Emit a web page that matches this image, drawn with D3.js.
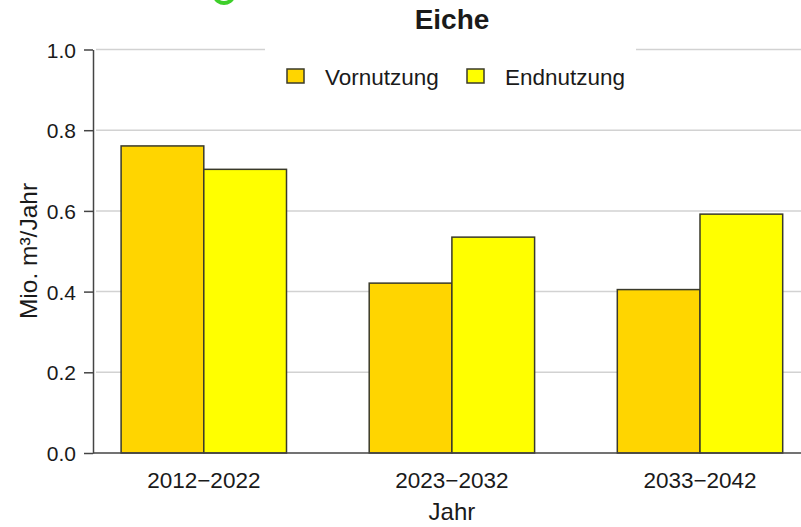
<!DOCTYPE html>
<html>
<meta charset="utf-8">
<style>
    body { margin: 0; background: #fff; }
    svg text { font-family: "Liberation Sans", Arial, sans-serif; fill: #1a1a1a; }
    .grid line { stroke: #d2d2d2; stroke-width: 1.5; }
    .bar { stroke: #3a3a2a; stroke-width: 1.5; }
</style>
<body>
<script src="https://cdn.jsdelivr.net/npm/d3@7"></script>
<div id="chart"></div>
<script>
// Chart data.
var categories = ["2012\u22122022", "2023\u22122032", "2033\u22122042"];
var series = ["Vornutzung", "Endnutzung"];
var vornutzung = [0.761, 0.421, 0.405];
var endnutzung = [0.703, 0.535, 0.592];
var yTicks = [0, 0.2, 0.4, 0.6, 0.8, 1.0];
var colors = ["#FFD500", "#FFFF00"];

var width = 801, height = 527;

var svg = d3.select("#chart").append("svg")
    .attr("width", width)
    .attr("height", height);

// Scales. The plot runs off the right edge of the picture, like the original.
var y = d3.scaleLinear().domain([0, 1]).range([453, 49.5]);
var x = d3.scaleBand().domain(categories)
    .range([38.4, 865.4])
    .paddingInner(1 / 3)
    .paddingOuter(1 / 3);
var xs = d3.scaleBand().domain(series).range([0, x.bandwidth()]);
var color = d3.scaleOrdinal().domain(series).range(colors);

// small green mark cut off at the top edge
svg.append("path")
    .attr("d", d3.arc()({innerRadius: 8, outerRadius: 12, startAngle: Math.PI * 0.6, endAngle: Math.PI * 1.4}))
    .attr("transform", "translate(224,-7)")
    .attr("fill", "#3ecf2a");

// Grid lines
svg.append("g").attr("class", "grid")
    .selectAll("line")
    .data(yTicks.filter(function(d) { return d > 0; }))
    .enter().append("line")
    .attr("x1", 96).attr("x2", width)
    .attr("y1", function(d) { return y(d); })
    .attr("y2", function(d) { return y(d); });

// Bars
var rows = categories.map(function(c, i) {
    return {cat: c, values: [
        {key: series[0], value: vornutzung[i]},
        {key: series[1], value: endnutzung[i]}
    ]};
});

var groups = svg.append("g").selectAll("g")
    .data(rows)
    .enter().append("g")
    .attr("transform", function(d) { return "translate(" + x(d.cat) + ",0)"; });

groups.selectAll("rect")
    .data(function(d) { return d.values; })
    .enter().append("rect")
    .attr("class", "bar")
    .attr("x", function(d) { return xs(d.key); })
    .attr("width", xs.bandwidth())
    .attr("y", function(d) { return y(d.value); })
    .attr("height", function(d) { return y(0) - y(d.value); })
    .attr("fill", function(d) { return color(d.key); });

// Baseline
svg.append("line")
    .attr("x1", 93).attr("x2", width)
    .attr("y1", y(0)).attr("y2", y(0))
    .attr("stroke", "#444").attr("stroke-width", 1.5);

// Y axis
var yAxis = svg.append("g")
    .attr("transform", "translate(93,0)")
    .call(d3.axisLeft(y).tickValues(yTicks).tickFormat(d3.format(".1f"))
        .tickSize(9).tickSizeOuter(0).tickPadding(8));
yAxis.selectAll("path, line").attr("stroke", "#444").attr("stroke-width", 1.5);
yAxis.selectAll("text")
    .style("font-size", "21px")
    .attr("fill", "#1a1a1a")
    .attr("dy", "0.36em");

// X tick labels
var xAxis = svg.append("g")
    .attr("transform", "translate(0," + y(0) + ")")
    .call(d3.axisBottom(x).tickSize(0).tickPadding(19));
xAxis.select(".domain").remove();
xAxis.selectAll("text")
    .style("font-size", "22.5px")
    .attr("fill", "#1a1a1a");

// Axis titles
svg.append("text")
    .attr("x", x(categories[1]) + x.bandwidth() / 2)
    .attr("y", 520)
    .attr("text-anchor", "middle")
    .style("font-size", "24px")
    .text("Jahr");

svg.append("text")
    .attr("transform", "translate(37,251) rotate(-90)")
    .attr("text-anchor", "middle")
    .style("font-size", "24.5px")
    .text("Mio. m\u00b3/Jahr");

// Title
svg.append("text")
    .attr("x", 452)
    .attr("y", 29)
    .attr("text-anchor", "middle")
    .style("font-size", "28px")
    .style("font-weight", "bold")
    .text("Eiche");

// Legend with white background over the top grid line
var legend = svg.append("g");
legend.append("rect")
    .attr("x", 265).attr("y", 40)
    .attr("width", 371).attr("height", 60)
    .attr("fill", "#fff");

var legendX = [287, 467];
var items = legend.selectAll("g.item")
    .data(series)
    .enter().append("g")
    .attr("class", "item")
    .attr("transform", function(d, i) { return "translate(" + legendX[i] + ",69)"; });

items.append("rect")
    .attr("class", "bar")
    .attr("width", 17).attr("height", 14)
    .attr("fill", function(d) { return color(d); });

items.append("text")
    .attr("x", 38)
    .attr("y", 16)
    .style("font-size", "22.5px")
    .text(function(d) { return d; });
</script>
</body>
</html>
